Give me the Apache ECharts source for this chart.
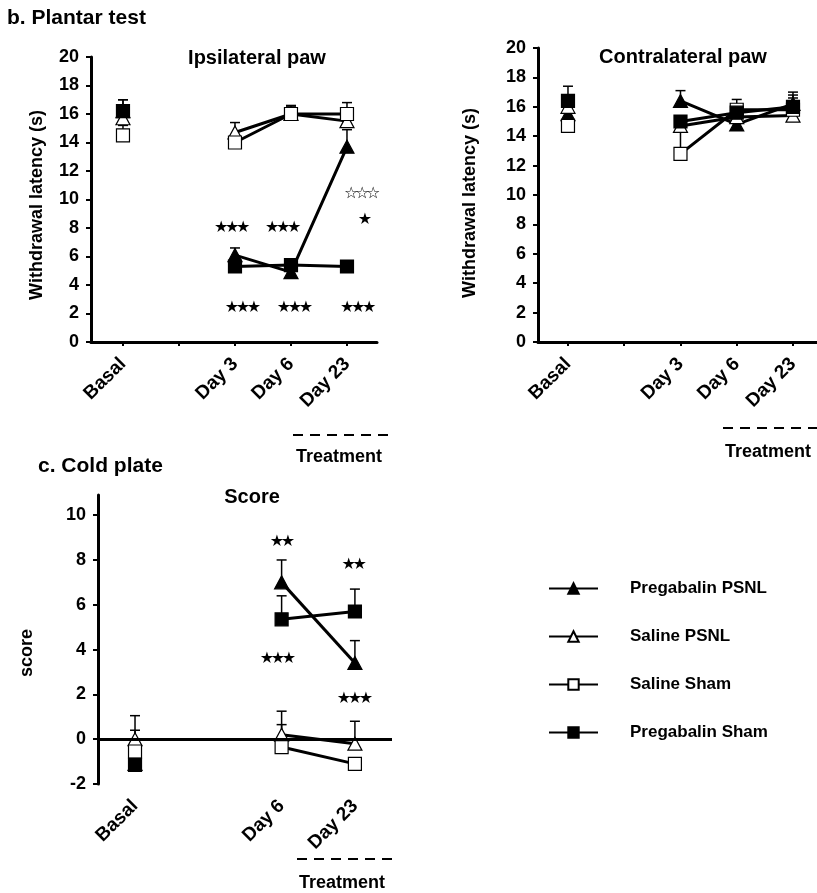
<!DOCTYPE html>
<html><head><meta charset="utf-8">
<script src="https://cdn.jsdelivr.net/npm/echarts@6.0.0/dist/echarts.min.js"></script>
<style>html,body{margin:0;padding:0;background:#fff}#c{width:817px;height:893px}</style>
</head><body><div id="c"></div>
<script>
// ---------- data ----------
const seriesNames = ['Pregabalin PSNL', 'Saline PSNL', 'Saline Sham', 'Pregabalin Sham'];
const plantarCats = ['Basal', '', 'Day 3', 'Day 6', 'Day 23'];
const coldCats = ['Basal', '', 'Day 6', 'Day 23'];
const plantarYTicks = [0, 2, 4, 6, 8, 10, 12, 14, 16, 18, 20];
const coldYTicks = [-2, 0, 2, 4, 6, 8, 10];

// Ipsilateral paw (withdrawal latency, s)
const ipsiPregPSNL = [16.2, null, 6.1, 4.9, 13.7];
const ipsiSalPSNL = [15.7, null, 14.7, 16.0, 15.5];
const ipsiSalSham = [14.5, null, 14.0, 16.0, 16.0];
const ipsiPregSham = [16.2, null, 5.3, 5.4, 5.3];
const ipsiPregPSNLErr = [17.0, null, 6.6, null, 14.9];
const ipsiSalPSNLErr = [null, null, 15.4, 16.5, 16.1];
const ipsiSalShamErr = [15.2, null, 14.5, 16.6, 16.8];
const ipsiPregShamErr = [17.0, null, null, null, null];

// Contralateral paw
const contraPregPSNL = [15.5, null, 16.4, 14.8, 16.2];
const contraSalPSNL = [16.0, null, 14.7, 15.3, 15.4];
const contraSalSham = [14.7, null, 12.8, 15.8, 15.8];
const contraPregSham = [16.4, null, 15.0, 15.6, 16.0];
const contraPregPSNLErr = [null, null, 17.1, null, 17.0];
const contraSalPSNLErr = [null, null, null, null, null];
const contraSalShamErr = [null, null, 14.5, 16.5, 16.6];
const contraPregShamErr = [17.4, null, null, 16.0, 16.8];

// Cold plate score
const coldPregPSNL = [-1.1, null, 7.0, 3.4];
const coldSalPSNL = [0.0, null, 0.2, -0.2];
const coldSalSham = [-0.55, null, -0.35, -1.1];
const coldPregSham = [-1.15, null, 5.35, 5.7];
const coldPregPSNLErr = [null, null, 8.0, 4.4];
const coldSalPSNLErr = [1.05, null, 1.25, 0.8];
const coldSalShamErr = [0.4, null, 0.65, null];
const coldPregShamErr = [null, null, 6.4, 6.7];

// significance annotations: [x position, y value, text]
const ipsiStars = [[1.95, 8.0, '★★★'], [2.86, 8.0, '★★★'], [2.14, 2.4, '★★★'], [3.07, 2.4, '★★★'], [4.2, 2.4, '★★★'], [4.27, 10.4, '☆☆☆'], [4.32, 8.6, '★']];
const coldStars = [[2.01, 8.8, '★★'], [2.99, 7.8, '★★'], [1.95, 3.6, '★★★'], [3.0, 1.8, '★★★']];

// ---------- helpers ----------
const FONT = 'Liberation Sans, Arial, Helvetica, sans-serif';
const styles = [
  {symbol: 'triangle', size: [14, 13], fill: '#000'},
  {symbol: 'triangle', size: [14, 13], fill: '#fff'},
  {symbol: 'rect', size: 13, fill: '#fff'},
  {symbol: 'rect', size: 13, fill: '#000'}
];

function lineSeries(name, idx, vals, axisIdx) {
  const st = styles[idx];
  return {
    type: 'line', name: name, xAxisIndex: axisIdx, yAxisIndex: axisIdx,
    data: vals.map((v, i) => [i, v == null ? '-' : v]),
    connectNulls: false, symbol: st.symbol, symbolSize: st.size, showAllSymbol: true,
    lineStyle: {color: '#000', width: 3},
    itemStyle: {color: st.fill, borderColor: '#000', borderWidth: 1.2, opacity: 1},
    emphasis: {disabled: true}, animation: false, z: 3 + idx * 0.1
  };
}

function errSeries(vals, errs, axisIdx) {
  const data = [];
  vals.forEach((v, i) => { if (v != null && errs[i] != null) data.push([i, v, errs[i]]); });
  return {
    type: 'custom', xAxisIndex: axisIdx, yAxisIndex: axisIdx, z: 2, animation: false,
    data: data, encode: {x: 0, y: [1, 2]}, silent: true,
    renderItem: function (params, api) {
      const p0 = api.coord([api.value(0), api.value(1)]);
      const p1 = api.coord([api.value(0), api.value(2)]);
      return {type: 'group', children: [
        {type: 'line', shape: {x1: p0[0], y1: p0[1], x2: p1[0], y2: p1[1]}, style: {stroke: '#000', lineWidth: 1.5}},
        {type: 'line', shape: {x1: p1[0] - 5, y1: p1[1], x2: p1[0] + 5, y2: p1[1]}, style: {stroke: '#000', lineWidth: 1.5}}
      ]};
    }
  };
}

function starSeries(arr, axisIdx) {
  const STEP = 11;
  return {
    type: 'custom', xAxisIndex: axisIdx, yAxisIndex: axisIdx, z: 5, animation: false, silent: true,
    data: arr.map(a => [a[0], a[1]]),
    renderItem: function (params, api) {
      const p = api.coord([api.value(0), api.value(1)]);
      const chars = Array.from(arr[params.dataIndex][2]);
      const n = chars.length;
      return {type: 'group', children: chars.map((ch, k) => ({
        type: 'text', x: p[0] + (k - (n - 1) / 2) * STEP, y: p[1],
        style: {text: ch, fill: '#000', font: '16px "DejaVu Sans"', align: 'center', verticalAlign: 'middle'}
      }))};
    }
  };
}

function xAxisDef(gridIdx, min, max, cats, labelIdx, showLine) {
  return {
    type: 'value', gridIndex: gridIdx, min: min, max: max,
    splitLine: {show: false},
    axisLine: {show: showLine, onZero: false, lineStyle: {color: '#000', width: 3}},
    axisTick: {show: showLine, customValues: cats.map((c, i) => i), length: 4, lineStyle: {color: '#000', width: 2}},
    axisLabel: {customValues: labelIdx, rotate: 45, margin: 19, formatter: v => cats[Math.round(v)],
      fontFamily: FONT, fontWeight: 'bold', fontSize: 19, color: '#000'}
  };
}

function yAxisDef(gridIdx, min, max, ticks) {
  return {
    type: 'value', gridIndex: gridIdx, min: min, max: max,
    splitLine: {show: false},
    axisLine: {show: true, onZero: false, lineStyle: {color: '#000', width: 3}},
    axisTick: {show: true, customValues: ticks, length: 5, lineStyle: {color: '#000', width: 2}},
    axisLabel: {customValues: ticks, margin: 12, fontFamily: FONT, fontWeight: 'bold', fontSize: 18, color: '#000'}
  };
}

function txt(text, x, y, size, rot) {
  return {type: 'text', x: x, y: y, rotation: rot || 0, silent: true,
    style: {text: text, font: 'bold ' + size + 'px ' + FONT, fill: '#000', align: 'center', verticalAlign: 'middle'}};
}
function txtL(text, x, y, size) {
  return {type: 'text', x: x, y: y, silent: true,
    style: {text: text, font: 'bold ' + size + 'px ' + FONT, fill: '#000', align: 'left', verticalAlign: 'middle'}};
}
function dash(x1, x2, y) {
  return {type: 'line', silent: true, shape: {x1: x1, y1: y, x2: x2, y2: y},
    style: {stroke: '#000', lineWidth: 2, lineDash: [10, 7]}};
}

// ---------- chart ----------
const chart = echarts.init(document.getElementById('c'), null, {renderer: 'canvas'});

const groups = [
  [ipsiPregPSNL, ipsiSalPSNL, ipsiSalSham, ipsiPregSham],
  [contraPregPSNL, contraSalPSNL, contraSalSham, contraPregSham],
  [coldPregPSNL, coldSalPSNL, coldSalSham, coldPregSham]
];
const errGroups = [
  [ipsiPregPSNLErr, ipsiSalPSNLErr, ipsiSalShamErr, ipsiPregShamErr],
  [contraPregPSNLErr, contraSalPSNLErr, contraSalShamErr, contraPregShamErr],
  [coldPregPSNLErr, coldSalPSNLErr, coldSalShamErr, coldPregShamErr]
];

const series = [];
groups.forEach((g, gi) => {
  g.forEach((vals, si) => {
    series.push(errSeries(vals, errGroups[gi][si], gi));
    series.push(lineSeries(seriesNames[si], si, vals, gi));
  });
});
series.push(starSeries(ipsiStars, 0));
series.push(starSeries(coldStars, 2));
// zero line of the cold plate chart
series.push({
  type: 'line', xAxisIndex: 2, yAxisIndex: 2, data: [], silent: true, animation: false,
  markLine: {silent: true, symbol: 'none', label: {show: false}, animation: false,
    lineStyle: {color: '#000', width: 3, type: 'solid'}, data: [{yAxis: 0}]}
});

chart.setOption({
  backgroundColor: '#fff',
  animation: false,
  grid: [
    {left: 91, top: 57, width: 286, height: 285, outerBoundsMode: 'none'},
    {left: 538, top: 48, right: 0, height: 294, outerBoundsMode: 'none'},
    {left: 98, top: 495, width: 294, height: 289, outerBoundsMode: 'none'}
  ],
  xAxis: [
    xAxisDef(0, -0.571, 4.536, plantarCats, [0, 2, 3, 4], true),
    xAxisDef(1, -0.533, 4.427, plantarCats, [0, 2, 3, 4], true),
    xAxisDef(2, -0.505, 3.506, coldCats, [0, 2, 3], false)
  ],
  yAxis: [
    yAxisDef(0, 0, 20, plantarYTicks),
    yAxisDef(1, 0, 20, plantarYTicks),
    yAxisDef(2, -2, 10.9, coldYTicks)
  ],
  legend: {
    data: seriesNames, orient: 'vertical', left: 543, top: 575,
    itemWidth: 49, itemHeight: 13, itemGap: 31, selectedMode: false,
    textStyle: {fontFamily: FONT, fontWeight: 'bold', fontSize: 17, color: '#000', padding: [0, 0, 0, 27]}
  },
  graphic: [
    txtL('b. Plantar test', 7, 18, 21),
    txtL('c. Cold plate', 38, 466, 21),
    txt('Ipsilateral paw', 257, 58, 20),
    txt('Contralateral paw', 683, 57, 20),
    txt('Score', 252, 497, 20),
    txt('Withdrawal latency (s)', 37, 205, 18, Math.PI / 2),
    txt('Withdrawal latency (s)', 470, 203, 18, Math.PI / 2),
    txt('score', 27, 653, 18, Math.PI / 2),
    dash(293, 392, 435), txt('Treatment', 339, 457, 18),
    dash(723, 817, 428), txt('Treatment', 768, 452, 18),
    dash(297, 395, 859), txt('Treatment', 342, 883, 18)
  ],
  series: series
});
</script></body></html>
